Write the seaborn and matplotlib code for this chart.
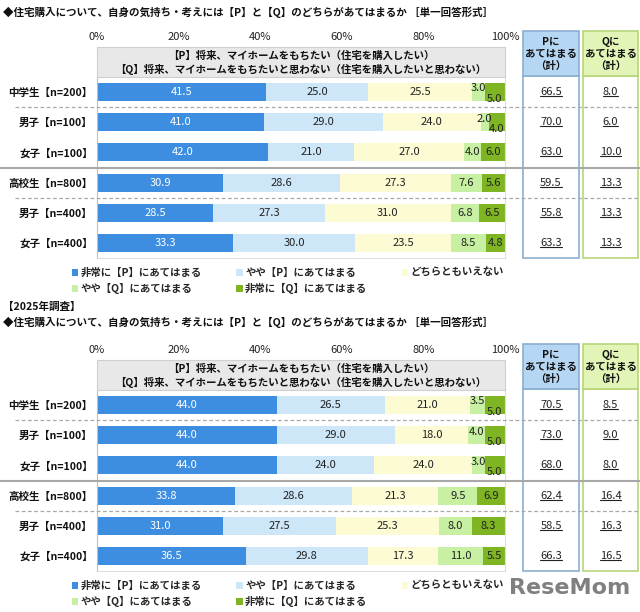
import numpy as np
import seaborn as sns
import matplotlib.pyplot as plt
import matplotlib.transforms as mtransforms
from matplotlib.patches import Rectangle, Patch
from matplotlib.lines import Line2D

groups = ["中学生【n=200】", "男子【n=100】", "女子【n=100】",
          "高校生【n=800】", "男子【n=400】", "女子【n=400】"]
series = ["非常に【P】にあてはまる", "やや【P】にあてはまる", "どちらともいえない",
          "やや【Q】にあてはまる", "非常に【Q】にあてはまる"]
colors = ["#3d8ee0", "#cde6f8", "#fcfbd3", "#c8f0a2", "#7fb522"]
ticks = [0, 20, 40, 60, 80, 100]

# 上段
very_p_1 = [41.5, 41.0, 42.0, 30.9, 28.5, 33.3]
some_p_1 = [25.0, 29.0, 21.0, 28.6, 27.3, 30.0]
neutral_1 = [25.5, 24.0, 27.0, 27.3, 31.0, 23.5]
some_q_1 = [3.0, 2.0, 4.0, 7.6, 6.8, 8.5]
very_q_1 = [5.0, 4.0, 6.0, 5.6, 6.5, 4.8]
p_total_1 = [66.5, 70.0, 63.0, 59.5, 55.8, 63.3]
q_total_1 = [8.0, 6.0, 10.0, 13.3, 13.3, 13.3]

# 2025年調査
very_p_2 = [44.0, 44.0, 44.0, 33.8, 31.0, 36.5]
some_p_2 = [26.5, 29.0, 24.0, 28.6, 27.5, 29.8]
neutral_2 = [21.0, 18.0, 24.0, 21.3, 25.3, 17.3]
some_q_2 = [3.5, 4.0, 3.0, 9.5, 8.0, 11.0]
very_q_2 = [5.0, 5.0, 5.0, 6.9, 8.3, 5.5]
p_total_2 = [70.5, 73.0, 68.0, 62.4, 58.5, 66.3]
q_total_2 = [8.5, 9.0, 8.0, 16.4, 16.3, 16.5]

title = "◆住宅購入について、自身の気持ち・考えには【P】と【Q】のどちらがあてはまるか ［単一回答形式］"
head1 = "【P】将来、マイホームをもちたい（住宅を購入したい）"
head2 = "【Q】将来、マイホームをもちたいと思わない（住宅を購入したいと思わない）"

sns.set_theme(style="white")
plt.rcParams['font.family'] = ['Noto Sans CJK JP', 'DejaVu Sans']

W, H = 640, 612
fig = plt.figure(figsize=(6.4, 6.12), dpi=100)


def fx(px):
    return px / W


def fy(py):
    return 1 - py / H


underlined = []


def panel(off, title_y, segs, p_tot, q_tot):
    fig.text(fx(3), fy(title_y), title, fontsize=7.6, weight="bold", va="center", color="#111111")
    ax = fig.add_axes([fx(97), fy(258 + off), (505 - 97) / W, (258 - 77) / H])
    ax.set_facecolor("none")
    cum = np.cumsum(np.array(segs), axis=0)
    for k in range(4, -1, -1):
        sns.barplot(x=cum[k], y=groups, order=groups, orient="h", color=colors[k],
                    saturation=1, width=0.6, linewidth=0, ax=ax)
    ax.set_xlim(0, 100)
    ax.set_ylim(5.5, -0.5)
    ax.set_xlabel("")
    ax.set_ylabel("")
    ax.xaxis.tick_top()
    ax.set_xticks(ticks)
    ax.set_xticklabels([f"{t}%" for t in ticks], fontsize=8, color="#222222")
    ax.tick_params(axis="x", length=0, pad=25)
    ax.tick_params(axis="y", length=0, pad=3)
    for lab in ax.get_yticklabels():
        lab.set_fontsize(7.6)
        lab.set_fontweight("bold")
        lab.set_color("#111111")
    ax.spines["top"].set_visible(False)
    ax.spines["left"].set_color("#bfbfbf")
    ax.spines["right"].set_color("#dddddd")
    ax.spines["bottom"].set_color("#dddddd")
    for s in ax.spines.values():
        s.set_linewidth(0.8)

    # segment labels
    for i in range(len(groups)):
        vals = [s[i] for s in segs]
        start = 0
        stagger = vals[3] + vals[4] < 10
        for k, v in enumerate(vals):
            cx = start + v / 2
            dy = 0
            if stagger and k == 3:
                dy = -0.12
            if stagger and k == 4:
                dy = 0.22
            ax.text(cx, i + dy, f"{v:.1f}", ha="center", va="center", fontsize=8,
                    color="white" if k == 0 else "#222222")
            start += v

    # header box
    fig.add_artist(Rectangle((fx(97), fy(77 + off)), (505 - 97) / W, 30 / H,
                             transform=fig.transFigure, fc="#e8e8e8", ec="#cfcfcf", lw=0.8))
    fig.text(fx(301), fy(55.5 + off), head1, fontsize=7.5, weight="bold", ha="center", va="center", color="#111111")
    fig.text(fx(301), fy(69.5 + off), head2, fontsize=7.5, weight="bold", ha="center", va="center", color="#111111")

    # total boxes
    tr = mtransforms.blended_transform_factory(fig.transFigure, ax.transData)
    for x0, x1, hc, ec, lab, tot in [(523, 579, "#b6d7f3", "#8cafcf", "Pに", p_tot),
                                     (583, 638, "#e2f5b6", "#b7d57a", "Qに", q_tot)]:
        fig.add_artist(Rectangle((fx(x0), fy(258 + off)), (x1 - x0) / W, (258 - 76) / H,
                                 transform=fig.transFigure, fc="white", ec=ec, lw=1.2))
        fig.add_artist(Rectangle((fx(x0), fy(76 + off)), (x1 - x0) / W, 45 / H,
                                 transform=fig.transFigure, fc=hc, ec=ec, lw=1.2))
        fig.text(fx((x0 + x1) / 2), fy(54 + off), lab + "\nあてはまる\n（計）", fontsize=7.5,
                 weight="bold", ha="center", va="center", linespacing=1.3, color="#111111")
        for i, v in enumerate(tot):
            t = fig.text(fx((x0 + x1) / 2), i, f"{v:.1f}", transform=tr, fontsize=8,
                         ha="center", va="center", color="#222222")
            underlined.append(t)

    # separators
    for yb, solid in [(0.5, False), (2.5, True), (3.5, False)]:
        yfig = fig.transFigure.inverted().transform(ax.transData.transform((0, yb)))[1]
        if solid:
            fig.add_artist(Line2D([0, 1], [yfig, yfig], transform=fig.transFigure,
                                  color="#a8a8a8", lw=1.5))
        else:
            fig.add_artist(Line2D([fx(15), 1], [yfig, yfig], transform=fig.transFigure,
                                  color="#a8a8a8", lw=0.9, ls=(0, (3, 2))))

    # legend (column-major order to get row-wise layout)
    order = [0, 3, 1, 4, 2]
    handles = [Patch(facecolor=colors[k], edgecolor="none") for k in order]
    labels = [series[k] for k in order]
    ax.legend(handles, labels, loc="upper left", bbox_to_anchor=(fx(72), fy(268 + off)),
              bbox_transform=fig.transFigure, ncol=3, frameon=False,
              prop={"weight": "bold", "size": 7.5}, handlelength=0.6, handleheight=0.6,
              handletextpad=0.25, columnspacing=3.3, labelspacing=0.45,
              borderpad=0, borderaxespad=0)
    return ax


panel(0, 12, [very_p_1, some_p_1, neutral_1, some_q_1, very_q_1], p_total_1, q_total_1)
fig.text(fx(3), fy(307), "【2025年調査】", fontsize=7.6, weight="bold", va="center", color="#111111")
panel(313, 322, [very_p_2, some_p_2, neutral_2, some_q_2, very_q_2], p_total_2, q_total_2)

fig.text(fx(570), fy(588), "ReseMom", fontsize=16, weight="bold", ha="center", va="center",
         color="#808080", family="DejaVu Sans")

# underline the totals
fig.canvas.draw()
inv = fig.transFigure.inverted()
for t in underlined:
    bb = t.get_window_extent()
    (xa, ya), (xb, _) = inv.transform([(bb.x0, bb.y0 + 1), (bb.x1, bb.y0 + 1)])
    fig.add_artist(Line2D([xa, xb], [ya, ya], transform=fig.transFigure, color="#222222", lw=0.8))

fig.savefig("out.png", dpi=100)
